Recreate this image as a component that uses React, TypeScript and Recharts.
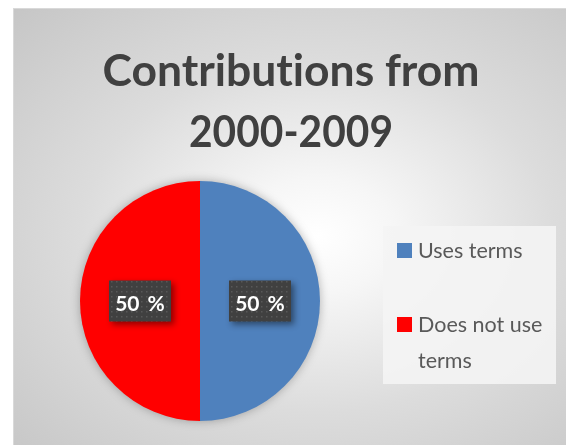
import React from 'react';
import { PieChart, Pie, Legend } from 'recharts';

// chart data
const categories = ['Uses terms', 'Does not use terms'];
const shares = [50, 50];
const sliceColors = ['#4F81BD', '#FF0000'];
const titleLines = ['Contributions from', '2000-2009'];

const data = categories.map((name, i) => ({ name, value: shares[i], fill: sliceColors[i] }));

const W = 553;
const H = 437;
const RADIAN = Math.PI / 180;
const FONT = 'Lato, "Open Sans", sans-serif';

const renderLabel = (props: any) => {
  const { cx, cy, midAngle, outerRadius, percent, index } = props;
  const r = outerRadius * 0.5;
  const x = cx + r * Math.cos(-midAngle * RADIAN);
  const y = cy + r * Math.sin(-midAngle * RADIAN);
  const pid = `labelDots-${index}`;
  return (
    <g key={`lbl-${index}`}>
      <defs>
        <pattern id={pid} width={5} height={5} patternUnits="userSpaceOnUse">
          <rect width={5} height={5} fill="#404040" />
          <rect x={2} y={2} width={1.5} height={1.5} fill="#585858" />
        </pattern>
      </defs>
      <rect
        x={x - 31}
        y={y - 20.5}
        width={62}
        height={41}
        fill={`url(#${pid})`}
        style={{ filter: 'drop-shadow(3px 3px 3px rgba(0,0,0,0.45))' }}
      />
      <text
        x={x}
        y={y + 1}
        textAnchor="middle"
        dominantBaseline="central"
        fill="#ffffff"
        fontWeight={700}
        fontSize={21}
        fontFamily={FONT}
        style={{ wordSpacing: 3 }}
      >
        {`${Math.round(percent * 100)} %`}
      </text>
    </g>
  );
};

const renderLegend = (props: any) => {
  const payload = [...(props.payload || [])].sort(
    (a: any, b: any) => categories.indexOf(a.value) - categories.indexOf(b.value)
  );
  return (
    <div
      style={{
        width: 173,
        height: 158,
        boxSizing: 'border-box',
        padding: '6px 4px 0 14px',
        background: 'rgba(244,244,244,0.9)',
        fontFamily: FONT,
        fontSize: 21.5,
        lineHeight: '36px',
        color: '#595959',
        textAlign: 'left',
      }}
    >
      {payload.map((entry: any, i: number) => (
        <div key={entry.value} style={{ display: 'flex', alignItems: 'flex-start', marginBottom: i === 0 ? 38 : 0 }}>
          <span
            style={{
              width: 15,
              height: 15,
              marginTop: 11,
              marginRight: 6,
              flexShrink: 0,
              background: entry.color || sliceColors[i],
            }}
          />
          <span>{entry.value}</span>
        </div>
      ))}
    </div>
  );
};

export default function App() {
  return (
    <div
      style={{
        position: 'fixed',
        left: 13,
        top: 8,
        width: W,
        height: H,
        boxSizing: 'border-box',
        borderLeft: '1px solid #d9d9d9',
        borderTop: '1px solid #d9d9d9',
        background: 'radial-gradient(ellipse at 55% 52%, #ffffff 0%, #f6f6f6 18%, #dcdcdc 55%, #c6c6c6 100%)',
        overflow: 'hidden',
      }}
    >
      <style>{`.recharts-pie { filter: drop-shadow(0 0 5px rgba(0,0,0,0.28)); }`}</style>
      <svg width={W} height={H} style={{ position: 'absolute', left: 0, top: 0, fontVariantLigatures: 'none' }}>
        <text x={277} y={77} textAnchor="middle" fill="#404040" fontWeight={700} fontSize={43} fontFamily={FONT} textLength={377} lengthAdjust="spacingAndGlyphs">
          {titleLines[0]}
        </text>
        <text x={277} y={138} textAnchor="middle" fill="#404040" fontWeight={700} fontSize={43} fontFamily={FONT} textLength={204} lengthAdjust="spacingAndGlyphs">
          {titleLines[1]}
        </text>
      </svg>
      <PieChart width={W} height={H} margin={{ top: 0, right: 0, bottom: 0, left: 0 }} style={{ position: 'absolute', left: 0, top: 0 }}>
        <Pie
          data={data}
          dataKey="value"
          nameKey="name"
          cx={186}
          cy={292}
          outerRadius={120}
          startAngle={90}
          endAngle={-270}
          stroke="none"
          labelLine={false}
          label={renderLabel}
          isAnimationActive={false}
        />
        <Legend
          layout="vertical"
          align="right"
          verticalAlign="middle"
          content={renderLegend}
          wrapperStyle={{ left: 369, top: 217, right: 'auto', width: 173, height: 158 }}
        />
      </PieChart>
    </div>
  );
}
